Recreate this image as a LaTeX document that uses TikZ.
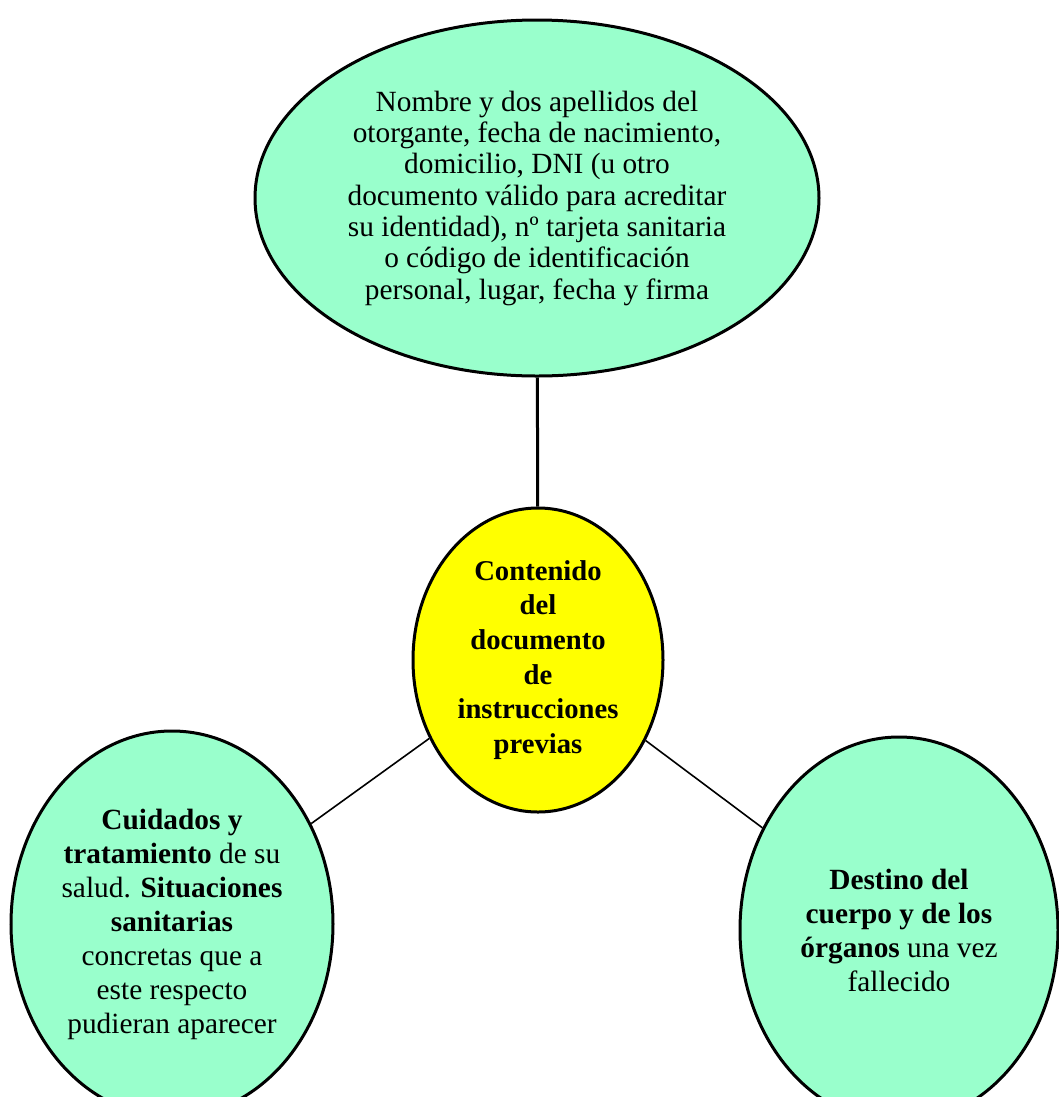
\documentclass[tikz,border=0pt]{standalone}
\usepackage{fontspec}
\setmainfont{Liberation Serif}
\usetikzlibrary{shapes.geometric}
\definecolor{mintgreen}{RGB}{153,255,204}
\definecolor{brightyellow}{RGB}{255,255,0}

\begin{document}
\begin{tikzpicture}[x=0.75pt, y=-0.75pt,
    bubble/.style={draw, ellipse, line width=2.25pt, inner sep=0pt, align=center,
        fill=mintgreen, font=\fontsize{22}{25.5}\selectfont},
    link/.style={line width=1.2pt}]
    \useasboundingbox (0,0) rectangle (1059,1097);
    % Central idea
    \node[bubble, fill=brightyellow, minimum width=187.5pt, minimum height=228pt,
        font=\bfseries\fontsize{21.5}{26}\selectfont] (contenido) at (538,660)
        {Contenido\\del\\documento\\de\\instrucciones\\previas};
    % Branches
    \node[bubble, minimum width=423pt, minimum height=267pt,
        font=\fontsize{22}{23.5}\selectfont] (datos) at (537,198)
        {Nombre y dos apellidos del\\otorgante, fecha de nacimiento,\\domicilio, DNI (u otro\\documento válido para acreditar\\su identidad), nº tarjeta sanitaria\\o código de identificación\\personal, lugar, fecha y firma};
    \node[bubble, minimum width=241.5pt, minimum height=289.5pt] (cuidados) at (172,924)
        {\textbf{Cuidados y}\\\textbf{tratamiento} de su\\salud. \textbf{Situaciones}\\\textbf{sanitarias}\\concretas que a\\este respecto\\pudieran aparecer};
    \node[bubble, minimum width=238.5pt, minimum height=289.5pt] (destino) at (899,930)
        {\textbf{Destino del}\\\textbf{cuerpo y de los}\\\textbf{órganos} una vez\\fallecido};

    \draw[line width=2.25pt] (datos) -- (contenido);
    \draw[link] (cuidados) -- (contenido);
    \draw[link] (destino) -- (contenido);
\end{tikzpicture}
\end{document}
